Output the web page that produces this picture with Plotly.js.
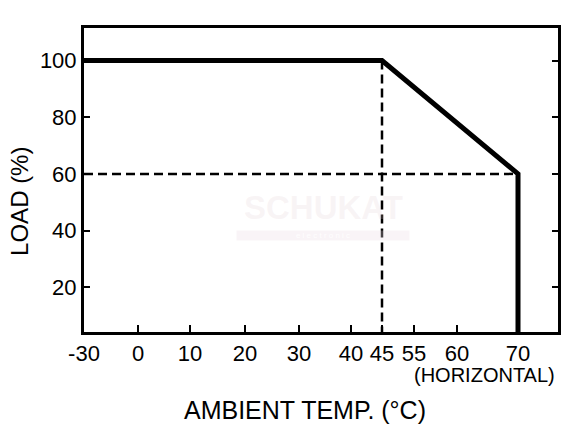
<!DOCTYPE html>
<html>
<head>
<meta charset="utf-8">
<script src="https://cdn.plot.ly/plotly-3.0.1.min.js"></script>
<style>html,body{margin:0;padding:0;background:#fff;}#chart{width:578px;height:447px;}</style>
</head>
<body>
<div id="chart"></div>
<script>
// Derating curve data
var curveTemp = [-30, 45, 70, 70];
var curveLoad = [100, 100, 60, 0];
// Reference (dashed) lines
var vGuideTemp = [45, 45];
var vGuideLoad = [100, 0];
var hGuideTemp = [-30, 70];
var hGuideLoad = [60, 60];
// Axis ticks
var xTickTemps = [-30, 0, 10, 20, 30, 40, 45, 55, 60, 70];
var xTickLabels = ['-30', '0', '10', '20', '30', '40', '45', '55', '60', '70'];
var yTickVals = [20, 40, 60, 80, 100];
var yTickLabels = ['20', '40', '60', '80', '100'];

// The printed temperature axis is not linear: each tick gets its own place on the axis
var xScalePos = [0, 54, 106, 161, 215, 267, 298, 330, 373, 434];
var xEnd = 474;
function mapT(t) {
  for (var i = 0; i < xTickTemps.length - 1; i++) {
    var a = xTickTemps[i], b = xTickTemps[i + 1];
    if (t <= b) {
      return xScalePos[i] + (t - a) / (b - a) * (xScalePos[i + 1] - xScalePos[i]);
    }
  }
  return xScalePos[xScalePos.length - 1];
}
var font = 'Liberation Sans, Arial, Helvetica, sans-serif';

var traces = [
  {x: vGuideTemp.map(mapT), y: vGuideLoad, mode: 'lines', line: {color: '#000', width: 2.5, dash: '9px,5px'}, hoverinfo: 'skip', showlegend: false},
  {x: hGuideTemp.map(mapT), y: hGuideLoad, mode: 'lines', line: {color: '#000', width: 2.5, dash: '9px,5px'}, hoverinfo: 'skip', showlegend: false},
  {x: curveTemp.map(mapT), y: curveLoad, mode: 'lines', line: {color: '#000', width: 5}, showlegend: false}
];

var layout = {
  width: 578, height: 447,
  margin: {l: 84, r: 20, t: 28, b: 115},
  paper_bgcolor: '#fff', plot_bgcolor: '#fff',
  font: {family: font, color: '#000', size: 22},
  showlegend: false,
  xaxis: {
    range: [0, xEnd], showgrid: false, zeroline: false,
    showline: true, linecolor: '#000', linewidth: 3, mirror: true,
    ticks: 'inside', ticklen: 7, tickwidth: 2, tickcolor: '#000',
    tickmode: 'array', tickvals: xTickTemps.map(mapT), ticktext: xTickLabels,
    tickfont: {family: font, size: 22, color: '#000'}
  },
  yaxis: {
    range: [4.2, 111.5], showgrid: false, zeroline: false,
    showline: true, linecolor: '#000', linewidth: 3, mirror: 'ticks',
    ticks: 'inside', ticklen: 6, tickwidth: 2, tickcolor: '#000',
    tickmode: 'array', tickvals: yTickVals, ticktext: yTickLabels,
    tickfont: {family: font, size: 22, color: '#000'}
  },
  annotations: [
    {text: 'LOAD (%)', xref: 'paper', yref: 'paper', x: -0.135, y: 0.428, xanchor: 'center', yanchor: 'middle', textangle: -90, showarrow: false, font: {family: font, size: 24, color: '#000'}},
    {text: 'AMBIENT TEMP. (°C)', xref: 'paper', yref: 'paper', x: 0.466, y: -0.255, xanchor: 'center', yanchor: 'middle', showarrow: false, font: {family: font, size: 25, color: '#000'}},
    {text: '(HORIZONTAL)', xref: 'paper', yref: 'paper', x: 0.998, y: -0.14, xanchor: 'right', yanchor: 'middle', showarrow: false, font: {family: font, size: 20, color: '#000'}},
    {text: '<b>SCHUKAT</b>', xref: 'paper', yref: 'paper', x: 0.505, y: 0.408, xanchor: 'center', yanchor: 'middle', showarrow: false, font: {family: font, size: 33, color: 'rgba(225,205,212,0.22)'}},
    {text: 'e l e c t r o n i c', xref: 'paper', yref: 'paper', x: 0.505, y: 0.316, xanchor: 'center', yanchor: 'middle', showarrow: false, width: 172, height: 9, borderpad: 0, bgcolor: 'rgba(235,220,228,0.3)', font: {family: font, size: 8, color: 'rgba(255,255,255,0.9)'}}
  ]
};

Plotly.newPlot('chart', traces, layout, {displayModeBar: false, staticPlot: true});
</script>
</body>
</html>
